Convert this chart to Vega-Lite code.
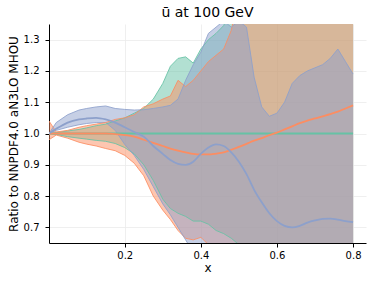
{
  "$schema": "https://vega.github.io/schema/vega-lite/v6.json",
  "autosize": {"type": "none"},
  "width": 317,
  "height": 219,
  "padding": {"left": 49, "top": 24, "right": 8, "bottom": 42},
  "background": "white",
  "title": {"text": "ū at 100 GeV", "font": "DejaVu Sans", "fontSize": 14, "fontWeight": "normal", "color": "black", "offset": 4},
  "config": {
    "view": {"stroke": null},
    "axis": {
      "labelFont": "DejaVu Sans", "labelFontSize": 10, "labelColor": "black", "labelOverlap": false,
      "titleFont": "DejaVu Sans", "titleFontSize": 12, "titleFontWeight": "normal", "titleColor": "black",
      "domainColor": "black", "domainWidth": 1, "tickColor": "black", "tickSize": 4,
      "grid": true, "gridColor": "#ebebeb", "gridWidth": 0.8
    }
  },
  "datasets": {
    "pdfs": [
      {"pdf":"g","x":0.001,"lo":1.0,"mid":1.0,"hi":1.0},
      {"pdf":"g","x":0.02,"lo":0.997,"mid":1.0,"hi":1.003},
      {"pdf":"g","x":0.05,"lo":0.99,"mid":1.0,"hi":1.008},
      {"pdf":"g","x":0.08,"lo":0.985,"mid":1.0,"hi":1.013},
      {"pdf":"g","x":0.1,"lo":0.982,"mid":1.0,"hi":1.018},
      {"pdf":"g","x":0.125,"lo":0.978,"mid":1.0,"hi":1.025},
      {"pdf":"g","x":0.15,"lo":0.975,"mid":1.0,"hi":1.03},
      {"pdf":"g","x":0.175,"lo":0.968,"mid":1.0,"hi":1.04},
      {"pdf":"g","x":0.2,"lo":0.955,"mid":1.0,"hi":1.05},
      {"pdf":"g","x":0.225,"lo":0.935,"mid":1.0,"hi":1.065},
      {"pdf":"g","x":0.25,"lo":0.9,"mid":1.0,"hi":1.08},
      {"pdf":"g","x":0.275,"lo":0.85,"mid":1.0,"hi":1.11},
      {"pdf":"g","x":0.3,"lo":0.79,"mid":1.0,"hi":1.16},
      {"pdf":"g","x":0.32,"lo":0.76,"mid":1.0,"hi":1.215},
      {"pdf":"g","x":0.34,"lo":0.745,"mid":1.0,"hi":1.24},
      {"pdf":"g","x":0.36,"lo":0.735,"mid":1.0,"hi":1.245},
      {"pdf":"g","x":0.38,"lo":0.72,"mid":1.0,"hi":1.225},
      {"pdf":"g","x":0.4,"lo":0.72,"mid":1.0,"hi":1.27},
      {"pdf":"g","x":0.42,"lo":0.71,"mid":1.0,"hi":1.3},
      {"pdf":"g","x":0.44,"lo":0.69,"mid":1.0,"hi":1.32},
      {"pdf":"g","x":0.46,"lo":0.68,"mid":1.0,"hi":1.345},
      {"pdf":"g","x":0.48,"lo":0.665,"mid":1.0,"hi":1.4},
      {"pdf":"g","x":0.5,"lo":0.645,"mid":1.0,"hi":1.45},
      {"pdf":"g","x":0.52,"lo":0.55,"mid":1.0,"hi":1.45},
      {"pdf":"g","x":0.54,"lo":0.55,"mid":1.0,"hi":1.45},
      {"pdf":"g","x":0.56,"lo":0.55,"mid":1.0,"hi":1.45},
      {"pdf":"g","x":0.58,"lo":0.55,"mid":1.0,"hi":1.45},
      {"pdf":"g","x":0.6,"lo":0.55,"mid":1.0,"hi":1.45},
      {"pdf":"g","x":0.62,"lo":0.55,"mid":1.0,"hi":1.45},
      {"pdf":"g","x":0.64,"lo":0.55,"mid":1.0,"hi":1.45},
      {"pdf":"g","x":0.66,"lo":0.55,"mid":1.0,"hi":1.45},
      {"pdf":"g","x":0.68,"lo":0.55,"mid":1.0,"hi":1.45},
      {"pdf":"g","x":0.7,"lo":0.55,"mid":1.0,"hi":1.45},
      {"pdf":"g","x":0.72,"lo":0.55,"mid":1.0,"hi":1.45},
      {"pdf":"g","x":0.74,"lo":0.55,"mid":1.0,"hi":1.45},
      {"pdf":"g","x":0.76,"lo":0.55,"mid":1.0,"hi":1.45},
      {"pdf":"g","x":0.78,"lo":0.55,"mid":1.0,"hi":1.45},
      {"pdf":"g","x":0.8,"lo":0.55,"mid":1.0,"hi":1.45},

      {"pdf":"o","x":0.001,"lo":0.98,"mid":1.0,"hi":1.04},
      {"pdf":"o","x":0.02,"lo":0.995,"mid":1.0,"hi":1.005},
      {"pdf":"o","x":0.05,"lo":0.985,"mid":1.0,"hi":1.01},
      {"pdf":"o","x":0.08,"lo":0.972,"mid":1.0,"hi":1.02},
      {"pdf":"o","x":0.1,"lo":0.966,"mid":1.0,"hi":1.025},
      {"pdf":"o","x":0.125,"lo":0.96,"mid":1.0,"hi":1.03},
      {"pdf":"o","x":0.15,"lo":0.952,"mid":1.0,"hi":1.035},
      {"pdf":"o","x":0.175,"lo":0.945,"mid":0.998,"hi":1.045},
      {"pdf":"o","x":0.2,"lo":0.93,"mid":0.995,"hi":1.05},
      {"pdf":"o","x":0.225,"lo":0.905,"mid":0.99,"hi":1.06},
      {"pdf":"o","x":0.25,"lo":0.865,"mid":0.98,"hi":1.085},
      {"pdf":"o","x":0.275,"lo":0.8,"mid":0.97,"hi":1.095},
      {"pdf":"o","x":0.3,"lo":0.755,"mid":0.96,"hi":1.11},
      {"pdf":"o","x":0.32,"lo":0.725,"mid":0.952,"hi":1.12},
      {"pdf":"o","x":0.34,"lo":0.69,"mid":0.945,"hi":1.17},
      {"pdf":"o","x":0.36,"lo":0.665,"mid":0.94,"hi":1.15},
      {"pdf":"o","x":0.38,"lo":0.66,"mid":0.935,"hi":1.17},
      {"pdf":"o","x":0.4,"lo":0.668,"mid":0.933,"hi":1.2},
      {"pdf":"o","x":0.42,"lo":0.645,"mid":0.933,"hi":1.23},
      {"pdf":"o","x":0.44,"lo":0.62,"mid":0.936,"hi":1.25},
      {"pdf":"o","x":0.46,"lo":0.55,"mid":0.94,"hi":1.27},
      {"pdf":"o","x":0.48,"lo":0.55,"mid":0.948,"hi":1.33},
      {"pdf":"o","x":0.5,"lo":0.55,"mid":0.957,"hi":1.45},
      {"pdf":"o","x":0.52,"lo":0.55,"mid":0.967,"hi":1.45},
      {"pdf":"o","x":0.54,"lo":0.55,"mid":0.977,"hi":1.45},
      {"pdf":"o","x":0.56,"lo":0.55,"mid":0.985,"hi":1.45},
      {"pdf":"o","x":0.58,"lo":0.55,"mid":0.995,"hi":1.45},
      {"pdf":"o","x":0.6,"lo":0.55,"mid":1.003,"hi":1.45},
      {"pdf":"o","x":0.62,"lo":0.55,"mid":1.013,"hi":1.45},
      {"pdf":"o","x":0.64,"lo":0.55,"mid":1.023,"hi":1.45},
      {"pdf":"o","x":0.66,"lo":0.55,"mid":1.033,"hi":1.45},
      {"pdf":"o","x":0.68,"lo":0.55,"mid":1.041,"hi":1.45},
      {"pdf":"o","x":0.7,"lo":0.55,"mid":1.048,"hi":1.45},
      {"pdf":"o","x":0.72,"lo":0.55,"mid":1.055,"hi":1.45},
      {"pdf":"o","x":0.74,"lo":0.55,"mid":1.062,"hi":1.45},
      {"pdf":"o","x":0.76,"lo":0.55,"mid":1.07,"hi":1.45},
      {"pdf":"o","x":0.78,"lo":0.55,"mid":1.08,"hi":1.45},
      {"pdf":"o","x":0.8,"lo":0.55,"mid":1.09,"hi":1.45},

      {"pdf":"b","x":0.001,"lo":1.0,"mid":1.0,"hi":1.0},
      {"pdf":"b","x":0.02,"lo":1.01,"mid":1.015,"hi":1.035},
      {"pdf":"b","x":0.05,"lo":1.02,"mid":1.035,"hi":1.06},
      {"pdf":"b","x":0.08,"lo":1.028,"mid":1.045,"hi":1.075},
      {"pdf":"b","x":0.1,"lo":1.032,"mid":1.048,"hi":1.08},
      {"pdf":"b","x":0.125,"lo":1.035,"mid":1.05,"hi":1.085},
      {"pdf":"b","x":0.15,"lo":1.035,"mid":1.045,"hi":1.088},
      {"pdf":"b","x":0.175,"lo":1.01,"mid":1.035,"hi":1.08},
      {"pdf":"b","x":0.2,"lo":0.965,"mid":1.02,"hi":1.077},
      {"pdf":"b","x":0.225,"lo":0.93,"mid":1.005,"hi":1.075},
      {"pdf":"b","x":0.25,"lo":0.885,"mid":0.99,"hi":1.076},
      {"pdf":"b","x":0.275,"lo":0.83,"mid":0.96,"hi":1.08},
      {"pdf":"b","x":0.3,"lo":0.775,"mid":0.935,"hi":1.085},
      {"pdf":"b","x":0.32,"lo":0.74,"mid":0.915,"hi":1.09},
      {"pdf":"b","x":0.34,"lo":0.7,"mid":0.903,"hi":1.11},
      {"pdf":"b","x":0.36,"lo":0.66,"mid":0.9,"hi":1.17},
      {"pdf":"b","x":0.38,"lo":0.62,"mid":0.91,"hi":1.22},
      {"pdf":"b","x":0.4,"lo":0.55,"mid":0.935,"hi":1.26},
      {"pdf":"b","x":0.42,"lo":0.55,"mid":0.955,"hi":1.32},
      {"pdf":"b","x":0.44,"lo":0.55,"mid":0.965,"hi":1.34},
      {"pdf":"b","x":0.46,"lo":0.55,"mid":0.96,"hi":1.36},
      {"pdf":"b","x":0.48,"lo":0.55,"mid":0.94,"hi":1.34},
      {"pdf":"b","x":0.5,"lo":0.55,"mid":0.91,"hi":1.36},
      {"pdf":"b","x":0.52,"lo":0.55,"mid":0.87,"hi":1.34},
      {"pdf":"b","x":0.54,"lo":0.55,"mid":0.82,"hi":1.18},
      {"pdf":"b","x":0.56,"lo":0.55,"mid":0.78,"hi":1.085},
      {"pdf":"b","x":0.58,"lo":0.55,"mid":0.745,"hi":1.055},
      {"pdf":"b","x":0.6,"lo":0.55,"mid":0.72,"hi":1.065},
      {"pdf":"b","x":0.62,"lo":0.55,"mid":0.705,"hi":1.1},
      {"pdf":"b","x":0.64,"lo":0.55,"mid":0.7,"hi":1.16},
      {"pdf":"b","x":0.66,"lo":0.55,"mid":0.705,"hi":1.185},
      {"pdf":"b","x":0.68,"lo":0.55,"mid":0.715,"hi":1.2},
      {"pdf":"b","x":0.7,"lo":0.55,"mid":0.722,"hi":1.21},
      {"pdf":"b","x":0.72,"lo":0.55,"mid":0.727,"hi":1.22},
      {"pdf":"b","x":0.74,"lo":0.55,"mid":0.728,"hi":1.24},
      {"pdf":"b","x":0.76,"lo":0.55,"mid":0.725,"hi":1.27},
      {"pdf":"b","x":0.78,"lo":0.55,"mid":0.72,"hi":1.23},
      {"pdf":"b","x":0.8,"lo":0.55,"mid":0.717,"hi":1.19}
    ]
  },
  "data": {"name": "pdfs"},
  "encoding": {
    "x": {"field": "x", "type": "quantitative",
      "scale": {"domain": [0.001, 0.834], "nice": false, "zero": false},
      "axis": {"title": "x", "values": [0.2, 0.4, 0.6, 0.8], "format": ".1f", "labelPadding": 3, "titlePadding": 2}}
  },
  "layer": [
    {
      "transform": [{"filter": "datum.pdf == 'g'"}],
      "mark": {"type": "area", "color": "#66c2a5", "opacity": 0.5, "clip": true},
      "encoding": {
        "y": {"field": "lo", "type": "quantitative",
          "scale": {"domain": [0.65, 1.35], "nice": false, "zero": false},
          "axis": {"title": "Ratio to NNPDF4.0 aN3LO MHOU", "values": [0.7, 0.8, 0.9, 1.0, 1.1, 1.2, 1.3], "format": ".1f", "labelPadding": 6, "titlePadding": 3}},
        "y2": {"field": "hi"}
      }
    },
    {
      "transform": [{"filter": "datum.pdf == 'o'"}],
      "mark": {"type": "area", "color": "#fc8d62", "opacity": 0.5, "clip": true},
      "encoding": {
        "y": {"field": "lo", "type": "quantitative",
          "axis": {"title": "Ratio to NNPDF4.0 aN3LO MHOU", "values": [0.7, 0.8, 0.9, 1.0, 1.1, 1.2, 1.3], "format": ".1f", "labelPadding": 6, "titlePadding": 3}},
        "y2": {"field": "hi"}}
    },
    {
      "transform": [{"filter": "datum.pdf == 'b'"}],
      "mark": {"type": "area", "color": "#8da0cb", "opacity": 0.5, "clip": true},
      "encoding": {
        "y": {"field": "lo", "type": "quantitative",
          "axis": {"title": "Ratio to NNPDF4.0 aN3LO MHOU", "values": [0.7, 0.8, 0.9, 1.0, 1.1, 1.2, 1.3], "format": ".1f", "labelPadding": 6, "titlePadding": 3}},
        "y2": {"field": "hi"}}
    },
    {
      "mark": {"type": "line", "strokeWidth": 1, "opacity": 0.85, "clip": true},
      "encoding": {
        "y": {"field": "lo", "type": "quantitative",
          "axis": {"title": "Ratio to NNPDF4.0 aN3LO MHOU", "values": [0.7, 0.8, 0.9, 1.0, 1.1, 1.2, 1.3], "format": ".1f", "labelPadding": 6, "titlePadding": 3}},
        "color": {"field": "pdf", "type": "nominal", "scale": {"domain": ["g", "o", "b"], "range": ["#66c2a5", "#fc8d62", "#8da0cb"]}, "legend": null}
      }
    },
    {
      "mark": {"type": "line", "strokeWidth": 1, "opacity": 0.85, "clip": true},
      "encoding": {
        "y": {"field": "hi", "type": "quantitative",
          "axis": {"title": "Ratio to NNPDF4.0 aN3LO MHOU", "values": [0.7, 0.8, 0.9, 1.0, 1.1, 1.2, 1.3], "format": ".1f", "labelPadding": 6, "titlePadding": 3}},
        "color": {"field": "pdf", "type": "nominal", "legend": null}
      }
    },
    {
      "mark": {"type": "line", "strokeWidth": 1.8, "clip": true, "interpolate": "monotone"},
      "encoding": {
        "y": {"field": "mid", "type": "quantitative",
          "axis": {"title": "Ratio to NNPDF4.0 aN3LO MHOU", "values": [0.7, 0.8, 0.9, 1.0, 1.1, 1.2, 1.3], "format": ".1f", "labelPadding": 6, "titlePadding": 3}},
        "color": {"field": "pdf", "type": "nominal", "legend": null}
      }
    }
  ]
}
